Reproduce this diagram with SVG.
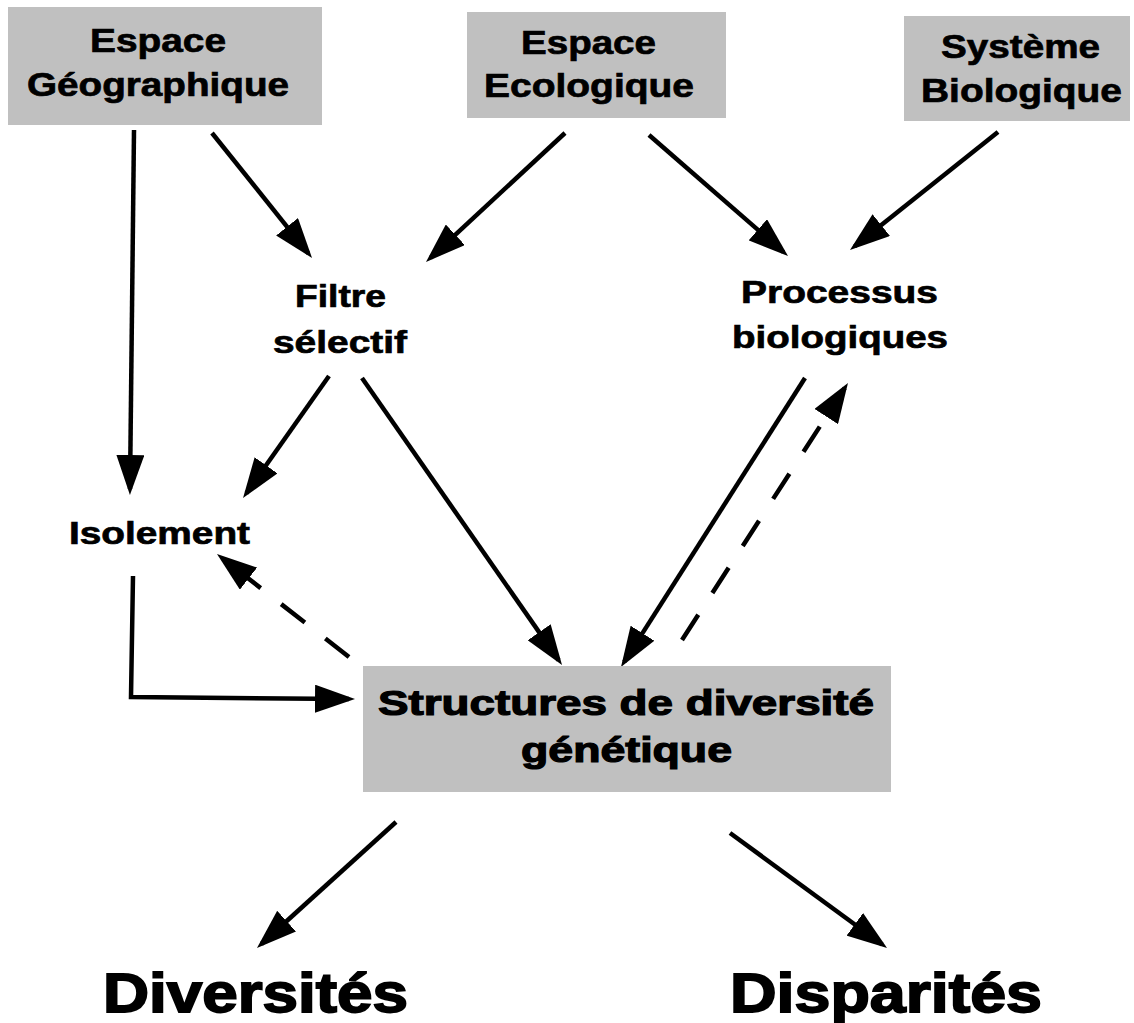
<svg xmlns="http://www.w3.org/2000/svg" width="1134" height="1023" viewBox="0 0 1134 1023">
<defs>
<style>
.box{fill:#c0c0c0;}
.t{font-family:"Liberation Sans",Arial,sans-serif;font-weight:bold;fill:#000;stroke:#000;stroke-width:0.7;}
.bx{font-size:33px;}
.lb{font-size:32px;}
.st{font-size:35px;stroke-width:1.2;}
.big{font-size:56px;stroke-width:1.8;}
.c{fill:none;stroke:#000;stroke-width:4.5;marker-end:url(#ah);}
.d{stroke-dasharray:30 26;}
</style>
<marker id="ah" markerUnits="userSpaceOnUse" markerWidth="40" markerHeight="28" viewBox="0 0 40 28" refX="34" refY="14" orient="auto">
<path d="M0,0 L40,14 L0,28 z" fill="#000"/>
</marker>
</defs>
<rect width="1134" height="1023" fill="#fff"/>
<g id="connectors">
<path class="c" d="M134,130 L130,489"/>
<path class="c" d="M212,133 L308.3,253.3"/>
<path class="c" d="M565,133 L430.4,257.9"/>
<path class="c" d="M649,135 L783.5,252.1"/>
<path class="c" d="M998,132 L854.7,246.3"/>
<path class="c" d="M329,376 L246.5,493.1"/>
<path class="c" d="M362,378 L558.6,660.1"/>
<path class="c" d="M805,378 L624.2,661.9"/>
<path class="c d" d="M682,640 L844.7,388"/>
<path class="c d" d="M349,657 L221.7,557.7"/>
<path class="c" d="M133,576 L131,697 L349,699"/>
<path class="c" d="M396,822 L261.4,944"/>
<path class="c" d="M730,833 L882.2,944.5"/>
</g>
<g id="espace-geographique">
<rect class="box" x="8" y="7" width="314" height="118"/>
<text class="t bx" x="90" y="52" textLength="136" lengthAdjust="spacingAndGlyphs">Espace</text>
<text class="t bx" x="27" y="96" textLength="262" lengthAdjust="spacingAndGlyphs">Géographique</text>
</g>
<g id="espace-ecologique">
<rect class="box" x="467" y="12" width="259" height="106"/>
<text class="t bx" x="521" y="54" textLength="135" lengthAdjust="spacingAndGlyphs">Espace</text>
<text class="t bx" x="484" y="97" textLength="210" lengthAdjust="spacingAndGlyphs">Ecologique</text>
</g>
<g id="systeme-biologique">
<rect class="box" x="904" y="16" width="226" height="105"/>
<text class="t bx" x="941" y="58" textLength="159" lengthAdjust="spacingAndGlyphs">Système</text>
<text class="t bx" x="921" y="102" textLength="201" lengthAdjust="spacingAndGlyphs">Biologique</text>
</g>
<g id="filtre-selectif">
<text class="t lb" x="295" y="307" textLength="91" lengthAdjust="spacingAndGlyphs">Filtre</text>
<text class="t lb" x="273" y="353" textLength="134" lengthAdjust="spacingAndGlyphs">sélectif</text>
</g>
<g id="processus-biologiques">
<text class="t lb" x="741" y="303" textLength="197" lengthAdjust="spacingAndGlyphs">Processus</text>
<text class="t lb" x="732" y="348" textLength="216" lengthAdjust="spacingAndGlyphs">biologiques</text>
</g>
<g id="isolement">
<text class="t lb" x="69" y="544" textLength="181" lengthAdjust="spacingAndGlyphs">Isolement</text>
</g>
<g id="structures">
<rect class="box" x="363" y="666" width="528" height="126"/>
<text class="t st" x="378" y="715" textLength="496" lengthAdjust="spacingAndGlyphs">Structures de diversité</text>
<text class="t st" x="521" y="762" textLength="211" lengthAdjust="spacingAndGlyphs">génétique</text>
</g>
<g id="diversites">
<text class="t big" x="103" y="1012" textLength="305" lengthAdjust="spacingAndGlyphs">Diversités</text>
</g>
<g id="disparites">
<text class="t big" x="730" y="1012" textLength="312" lengthAdjust="spacingAndGlyphs">Disparités</text>
</g>
</svg>
